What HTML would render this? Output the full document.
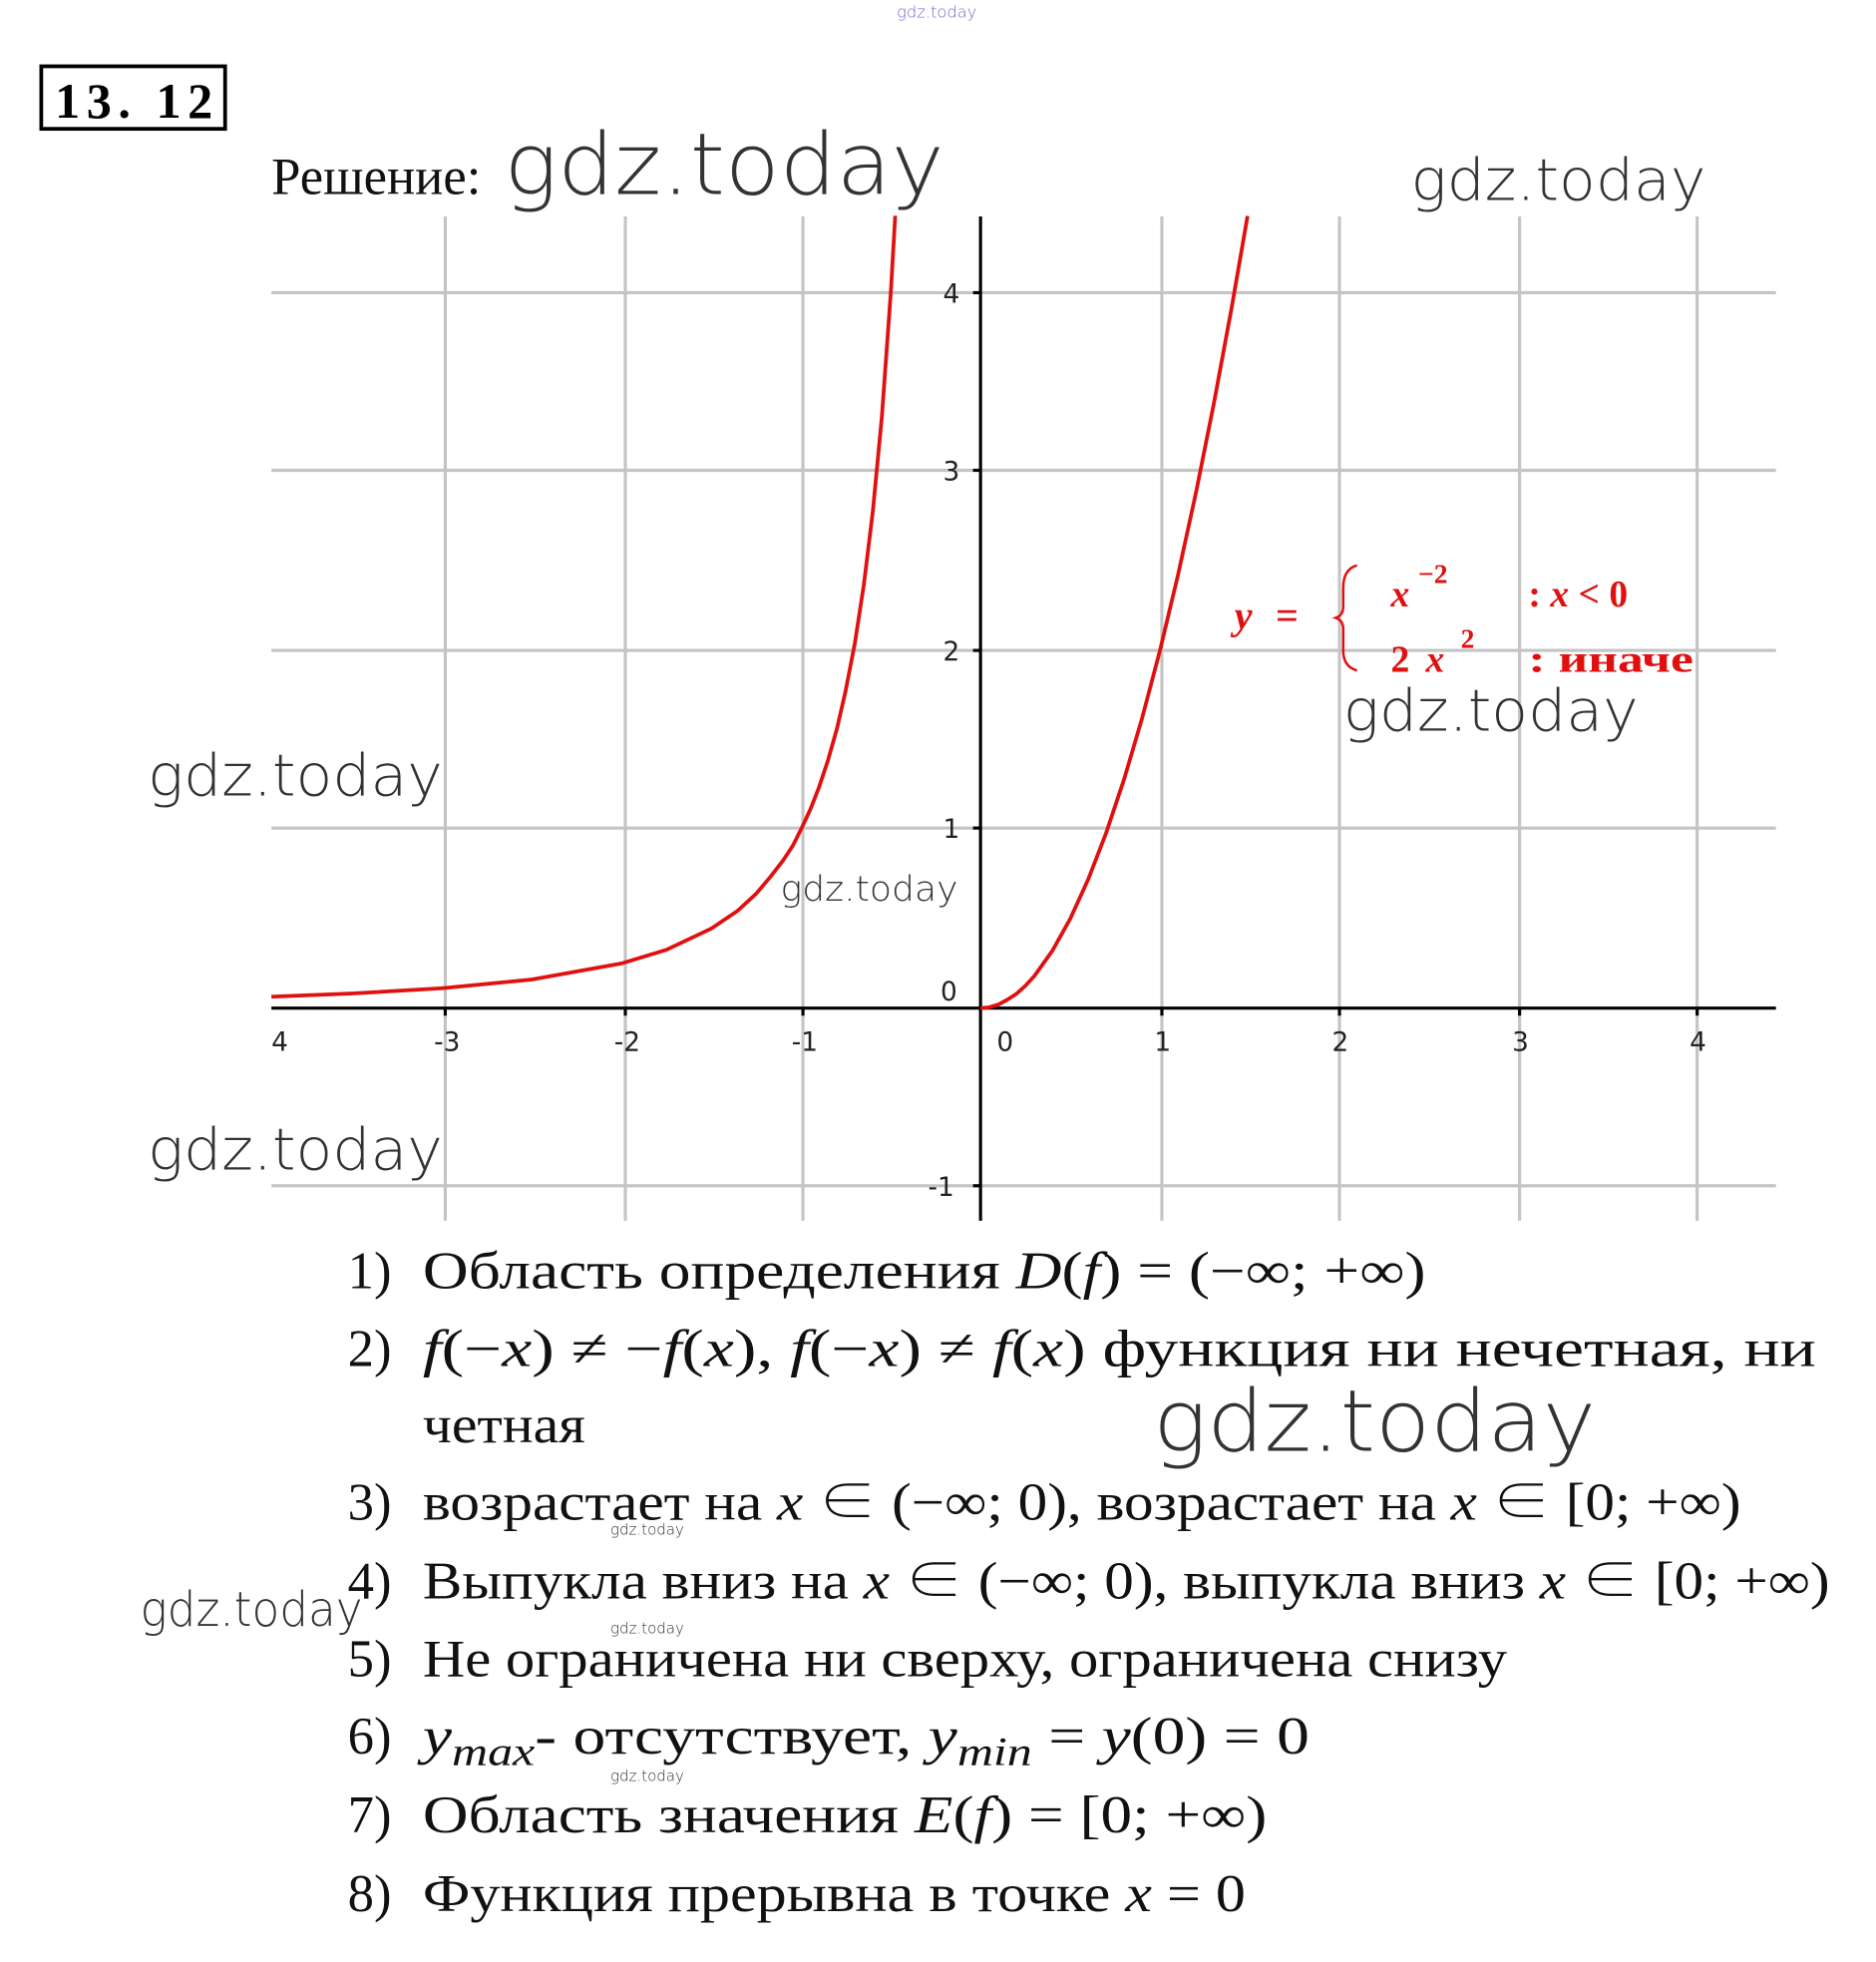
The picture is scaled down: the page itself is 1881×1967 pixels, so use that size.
<!DOCTYPE html>
<html><head><meta charset="utf-8"><style>
html,body{margin:0;padding:0;background:#fff;}
svg{display:block;}
.w{font-family:"DejaVu Sans","Liberation Sans",sans-serif;fill:#333;font-weight:200;}
.t{font-family:"Liberation Serif","Noto Serif CJK SC",serif;fill:#111;font-size:42px;}
.i{font-style:italic;}
.tk{font-family:"DejaVu Sans","Liberation Sans",sans-serif;font-size:21px;fill:#222;}
</style></head><body>
<svg width="1881" height="1967" viewBox="0 0 1500 1568.6" preserveAspectRatio="none" xmlns="http://www.w3.org/2000/svg">
<rect width="1500" height="1568.6" fill="#fff"/>
<text x="717" y="14" class="w" font-size="13" style="fill:#6a6ad0">gdz.today</text>
<rect x="33" y="53" width="147" height="50" fill="none" stroke="#000" stroke-width="3"/>
<text x="44" y="94" font-family="Liberation Serif,serif" font-weight="bold" font-size="40" textLength="126" lengthAdjust="spacing">13. 12</text>
<text x="217" y="155" class="t" font-size="42">Решение:</text>
<text x="403" y="155" class="w" font-size="68" textLength="352" lengthAdjust="spacingAndGlyphs">gdz.today</text>
<text x="1128" y="160" class="w" font-size="46" textLength="236" lengthAdjust="spacingAndGlyphs">gdz.today</text>
<g stroke="#c4c4c4" stroke-width="2.5">
<line x1="356" y1="173" x2="356" y2="976"/><line x1="500" y1="173" x2="500" y2="976"/><line x1="642" y1="173" x2="642" y2="976"/>
<line x1="929" y1="173" x2="929" y2="976"/><line x1="1071" y1="173" x2="1071" y2="976"/><line x1="1215" y1="173" x2="1215" y2="976"/><line x1="1357" y1="173" x2="1357" y2="976"/>
<line x1="217" y1="234" x2="1420" y2="234"/><line x1="217" y1="376" x2="1420" y2="376"/><line x1="217" y1="520" x2="1420" y2="520"/><line x1="217" y1="662" x2="1420" y2="662"/><line x1="217" y1="948" x2="1420" y2="948"/>
</g>
<g stroke="#000" stroke-width="2.5">
<line x1="217" y1="806" x2="1420" y2="806"/><line x1="784" y1="173" x2="784" y2="976"/>
<line x1="356" y1="806" x2="356" y2="812"/><line x1="500" y1="806" x2="500" y2="812"/><line x1="642" y1="806" x2="642" y2="812"/><line x1="929" y1="806" x2="929" y2="812"/><line x1="1071" y1="806" x2="1071" y2="812"/><line x1="1215" y1="806" x2="1215" y2="812"/><line x1="1357" y1="806" x2="1357" y2="812"/>
<line x1="778" y1="234" x2="784" y2="234"/><line x1="778" y1="376" x2="784" y2="376"/><line x1="778" y1="520" x2="784" y2="520"/><line x1="778" y1="662" x2="784" y2="662"/><line x1="778" y1="948" x2="784" y2="948"/>
</g>
<g class="tk">
<text x="217" y="840">4</text><text x="347" y="840">-3</text><text x="491" y="840">-2</text><text x="633" y="840">-1</text><text x="797" y="840">0</text><text x="923" y="840">1</text><text x="1065" y="840">2</text><text x="1209" y="840">3</text><text x="1351" y="840">4</text>
<text x="754" y="242">4</text><text x="754" y="384">3</text><text x="754" y="528">2</text><text x="754" y="670">1</text><text x="752" y="800">0</text><text x="742" y="956">-1</text>
</g>
<g fill="none" stroke="#e01010" stroke-width="3" stroke-linejoin="round">
<polyline points="217,796.9 281.75,794.3 353.5,790.1 425.25,783.1 497,770.25 532.9,759.3 568.75,742.4 590,728 604.6,714.5 616,701 626.15,687.9 634,676 640.5,663 648,647 654.85,629.4 662,608 669.2,582.6 676,553 683.55,514.1 690.7,467.5 697.9,408.8 705.1,333.3 712.25,234 715.8,172.5"/>
<polyline points="784,806 791,805.3 798.35,803.1 805,799.5 812.7,794.6 820,788 827.05,780.3 841.4,760.2 855.75,734.5 870.1,703 884.45,665.9 898.8,623 913.15,574.3 927.5,520 941.85,459.9 956.2,394.2 970.55,322.7 984.9,245.4 997.5,172.7"/>
</g>
<g fill="#e01010" font-family="Liberation Serif,serif" font-weight="bold">
<text x="987" y="503" font-size="32" font-style="italic">y</text><text x="1020" y="503" font-size="32">=</text>
<path d="M1085,452 Q1074,455 1074,470 L1074,485 Q1074,492 1068,494 Q1074,496 1074,503 L1074,520 Q1074,533 1085,536" stroke="#e01010" stroke-width="2" fill="none"/>
<text x="1112" y="485" font-size="30" font-style="italic">x</text><text x="1134" y="466" font-size="22">−2</text>
<text x="1222" y="485" font-size="30">: <tspan font-style="italic">x</tspan> &lt; 0</text>
<text x="1112" y="537" font-size="30">2</text><text x="1140" y="537" font-size="30" font-style="italic">x</text><text x="1168" y="518" font-size="22">2</text>
<text x="1222" y="537" font-size="30" textLength="132" lengthAdjust="spacingAndGlyphs">: иначе</text>
</g>
<text x="1074" y="584" class="w" font-size="46" textLength="236" lengthAdjust="spacingAndGlyphs">gdz.today</text>
<text x="118" y="636" class="w" font-size="46" textLength="236" lengthAdjust="spacingAndGlyphs">gdz.today</text>
<text x="624" y="720" class="w" font-size="28" textLength="142" lengthAdjust="spacingAndGlyphs">gdz.today</text>
<text x="118" y="935" class="w" font-size="46" textLength="236" lengthAdjust="spacingAndGlyphs">gdz.today</text>
<g class="t">
<text x="278" y="1030">1)</text><text x="338" y="1030" textLength="802" lengthAdjust="spacingAndGlyphs">Область определения <tspan class="i">D</tspan>(<tspan class="i">f</tspan>) = (−∞; +∞)</text>
<text x="278" y="1092">2)</text><text x="338" y="1092" textLength="1114" lengthAdjust="spacingAndGlyphs"><tspan class="i">f</tspan>(−<tspan class="i">x</tspan>) ≠ −<tspan class="i">f</tspan>(<tspan class="i">x</tspan>), <tspan class="i">f</tspan>(−<tspan class="i">x</tspan>) ≠ <tspan class="i">f</tspan>(<tspan class="i">x</tspan>) функция ни нечетная, ни</text>
<text x="338" y="1153" textLength="130" lengthAdjust="spacingAndGlyphs">четная</text>
<text x="278" y="1215">3)</text><text x="338" y="1215" textLength="1054" lengthAdjust="spacingAndGlyphs">возрастает на <tspan class="i">x</tspan> ∈ (−∞; 0), возрастает на <tspan class="i">x</tspan> ∈ [0; +∞)</text>
<text x="278" y="1278">4)</text><text x="338" y="1278" textLength="1125" lengthAdjust="spacingAndGlyphs">Выпукла вниз на <tspan class="i">x</tspan> ∈ (−∞; 0), выпукла вниз <tspan class="i">x</tspan> ∈ [0; +∞)</text>
<text x="278" y="1340">5)</text><text x="338" y="1340" textLength="867" lengthAdjust="spacingAndGlyphs">Не ограничена ни сверху, ограничена снизу</text>
<text x="278" y="1402">6)</text><text x="338" y="1402" textLength="709" lengthAdjust="spacingAndGlyphs"><tspan class="i">y</tspan><tspan class="i" font-size="32" dy="9">max</tspan><tspan dy="-9">- отсутствует, </tspan><tspan class="i">y</tspan><tspan class="i" font-size="32" dy="9">min</tspan><tspan dy="-9"> = </tspan><tspan class="i">y</tspan>(0) = 0</text>
<text x="278" y="1465">7)</text><text x="338" y="1465" textLength="675" lengthAdjust="spacingAndGlyphs">Область значения <tspan class="i">E</tspan>(<tspan class="i">f</tspan>) = [0; +∞)</text>
<text x="278" y="1528">8)</text><text x="338" y="1528" textLength="658" lengthAdjust="spacingAndGlyphs">Функция прерывна в точке <tspan class="i">x</tspan> = 0</text>
</g>
<text x="922" y="1160" class="w" font-size="68" textLength="354" lengthAdjust="spacingAndGlyphs">gdz.today</text>
<text x="112" y="1300" class="w" font-size="38" textLength="178" lengthAdjust="spacingAndGlyphs">gdz.today</text>
<text x="488" y="1227" class="w" font-size="12">gdz.today</text>
<text x="488" y="1306" class="w" font-size="12">gdz.today</text>
<text x="488" y="1424" class="w" font-size="12">gdz.today</text>
</svg>
</body></html>
